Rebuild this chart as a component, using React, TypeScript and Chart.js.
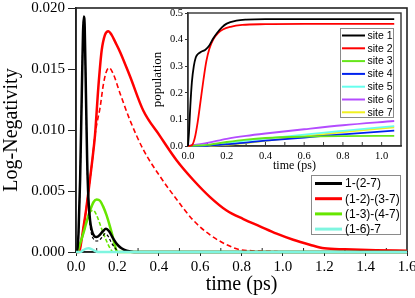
import React, { useEffect, useRef } from 'react';
import { Chart, registerables } from 'chart.js';
Chart.register(...registerables);

// ---------- main chart data: Log-Negativity vs time (ps) ----------
const tBlack = [0, 0.005, 0.012, 0.02, 0.028, 0.034, 0.038, 0.042, 0.048, 0.054, 0.06, 0.068, 0.076, 0.088, 0.1, 0.115, 0.13, 0.145, 0.16, 0.18, 0.2, 0.22, 0.245, 0.28, 1.6];
const vBlack = [0, 0, 0.0015, 0.006, 0.013, 0.018, 0.0193, 0.0185, 0.013, 0.0075, 0.0044, 0.0026, 0.0018, 0.0013, 0.00122, 0.0014, 0.0017, 0.0019, 0.0017, 0.0011, 0.0006, 0.0003, 0.0001, 0, 0];
const tBlackDash = [0, 0.005, 0.012, 0.02, 0.028, 0.034, 0.038, 0.042, 0.048, 0.054, 0.06, 0.068, 0.076, 0.088, 0.1, 0.115, 0.13, 0.14, 0.155, 0.17, 0.19, 0.21, 1.6];
const vBlackDash = [0, 0, 0.0015, 0.006, 0.013, 0.018, 0.0192, 0.0183, 0.0128, 0.0072, 0.004, 0.0022, 0.0014, 0.001, 0.0009, 0.001, 0.0013, 0.0015, 0.0013, 0.0008, 0.0003, 0, 0];
const tRed = [0, 0.015, 0.02, 0.035, 0.05, 0.065, 0.08, 0.092, 0.108, 0.124, 0.14, 0.156, 0.172, 0.19, 0.213, 0.261, 0.325, 0.406, 0.487, 0.567, 0.648, 0.728, 0.809, 0.889, 0.97, 1.05, 1.13, 1.2, 1.3, 1.45, 1.6];
const vRed = [0, 0, 0.0003, 0.0019, 0.0036, 0.0056, 0.0077, 0.0096, 0.0135, 0.0165, 0.0178, 0.0181, 0.0178, 0.0172, 0.0164, 0.0144, 0.0116, 0.0095, 0.0075, 0.0059, 0.0045, 0.0034, 0.0027, 0.0021, 0.0015, 0.001, 0.0006, 0.0003, 0.00022, 0.00015, 0.0001];
const tRedDash = [0, 0.015, 0.02, 0.035, 0.05, 0.065, 0.08, 0.092, 0.104, 0.116, 0.132, 0.145, 0.16, 0.18, 0.213, 0.261, 0.325, 0.406, 0.487, 0.567, 0.648, 0.728, 0.79, 0.85, 0.95, 1.0, 1.6];
const vRedDash = [0, 0, 0.0003, 0.0019, 0.0036, 0.0056, 0.0077, 0.0096, 0.0108, 0.0118, 0.0137, 0.0147, 0.0151, 0.0146, 0.013, 0.0108, 0.0084, 0.0062, 0.0043, 0.0026, 0.0014, 0.0006, 0.0002, 0.0001, 0.00005, 0, 0];
const tGreen = [0, 0.005, 0.02, 0.035, 0.05, 0.068, 0.085, 0.1, 0.116, 0.132, 0.148, 0.164, 0.18, 0.19, 0.2, 1.6];
const vGreen = [0, 0, 0.0007, 0.0015, 0.0024, 0.0034, 0.0041, 0.0043, 0.0042, 0.0037, 0.003, 0.0021, 0.0011, 0.0004, 0, 0];
const tGreenDash = [0, 0.005, 0.02, 0.035, 0.055, 0.07, 0.084, 0.1, 0.124, 0.145, 0.165, 0.18, 1.6];
const vGreenDash = [0, 0, 0.0007, 0.0015, 0.0027, 0.0033, 0.0034, 0.003, 0.0019, 0.001, 0.0003, 0, 0];
const tCyan = [0, 0.02, 0.035, 0.05, 0.06, 0.075, 0.09, 0.105, 1.6];
const vCyan = [0, 0, 0.00015, 0.00028, 0.0003, 0.00024, 0.0001, 0, 0];

const mainLabels = ['1-(2-7)', '(1-2)-(3-7)', '(1-3)-(4-7)', '(1-6)-7'];
const mainXTicks = [0, 0.2, 0.4, 0.6, 0.8, 1.0, 1.2, 1.4, 1.6];
const mainXMinor = [0.1, 0.3, 0.5, 0.7, 0.9, 1.1, 1.3, 1.5];
const mainYTicks = [0, 0.005, 0.01, 0.015, 0.02];

// ---------- inset data: population vs time (ps) ----------
const tSite1 = [0, 0.005, 0.012, 0.02, 0.03, 0.04, 0.05, 0.07, 0.09, 0.11, 0.13, 0.15, 0.175, 0.2, 0.25, 0.3, 0.4, 0.6, 0.8, 1.065];
const vSite1 = [0, 0.05, 0.15, 0.24, 0.3, 0.333, 0.345, 0.355, 0.362, 0.378, 0.404, 0.425, 0.446, 0.46, 0.471, 0.475, 0.477, 0.477, 0.477, 0.477];
const tSite2 = [0, 0.02, 0.035, 0.05, 0.065, 0.08, 0.095, 0.11, 0.13, 0.155, 0.18, 0.22, 0.28, 0.4, 0.6, 0.8, 1.065];
const vSite2 = [0, 0.003, 0.03, 0.09, 0.17, 0.25, 0.32, 0.365, 0.4, 0.424, 0.438, 0.448, 0.455, 0.458, 0.459, 0.459, 0.459];
const tSmall = [0, 0.1, 0.2, 0.3, 0.4, 0.6, 0.8, 1.065];
const vSite3 = [0, 0.004, 0.015, 0.024, 0.03, 0.035, 0.037, 0.038];
const vSite4 = [0, 0.001, 0.006, 0.013, 0.02, 0.032, 0.044, 0.058];
const vSite5 = [0, 0.003, 0.012, 0.02, 0.028, 0.043, 0.057, 0.075];
const vSite6 = [0, 0.012, 0.027, 0.038, 0.047, 0.063, 0.078, 0.094];
const vSite7 = [0, 0.0005, 0.004, 0.011, 0.019, 0.036, 0.052, 0.07];

const siteLabels = ['site 1', 'site 2', 'site 3', 'site 4', 'site 5', 'site 6', 'site 7'];
const siteColors = ['#000000', '#ff0000', '#66e61a', '#0022ee', '#66ffee', '#b44cff', '#f0f020'];
const insetXTicks = [0, 0.2, 0.4, 0.6, 0.8, 1.0];
const insetXMinor = [0.1, 0.2, 0.3, 0.4, 0.5, 0.6, 0.7, 0.8, 0.9, 1.0];
const insetYTicks = [0, 0.1, 0.2, 0.3, 0.4, 0.5];

const COL_BLACK = '#000000';
const COL_RED = '#ff0000';
const COL_GREEN = '#66e600';
const COL_CYAN = '#7ff5e0';

const pts = (t: number[], v: number[]) => t.map((x, i) => ({ x, y: v[i] }));

const SERIF = '"Liberation Serif", "Times New Roman", serif';
const SANS = '"Liberation Sans", Arial, sans-serif';

const framePlugin = {
  id: 'frame',
  beforeDatasetsDraw(chart: any, _a: any, opts: any) {
    const { ctx, chartArea: a } = chart;
    ctx.save();
    ctx.strokeStyle = opts.color || '#222';
    ctx.lineWidth = opts.width || 1.5;
    ctx.strokeRect(a.left, a.top, a.right - a.left, a.bottom - a.top);
    // inward minor ticks on x axis
    const xs = chart.scales.x;
    ctx.lineWidth = 1;
    (opts.minor || []).forEach((v: number) => {
      const px = xs.getPixelForValue(v);
      ctx.beginPath();
      ctx.moveTo(px, a.bottom);
      ctx.lineTo(px, a.bottom - (opts.minorLen || 4));
      ctx.stroke();
    });
    ctx.restore();
  },
};

const bgPlugin = {
  id: 'bgfill',
  beforeDraw(chart: any, _a: any, opts: any) {
    if (!opts.color) return;
    const { ctx, chartArea: a } = chart;
    ctx.save();
    ctx.fillStyle = opts.color;
    ctx.fillRect(a.left, a.top, a.right - a.left, a.bottom - a.top);
    ctx.restore();
  },
};

const boxLegendPlugin = {
  id: 'boxLegend',
  afterDraw(chart: any, _a: any, o: any) {
    const { ctx } = chart;
    const items = chart.data.datasets.filter((d: any) => !d.hideInLegend);
    ctx.save();
    ctx.fillStyle = '#ffffff';
    ctx.fillRect(o.x, o.y, o.w, o.h);
    ctx.strokeStyle = '#8a8a8a';
    ctx.lineWidth = 1;
    ctx.strokeRect(o.x + 0.5, o.y + 0.5, o.w, o.h);
    ctx.font = `${o.fontSize}px ${SANS}`;
    ctx.textBaseline = 'middle';
    ctx.textAlign = 'left';
    items.forEach((d: any, i: number) => {
      const y = o.first + i * o.step;
      ctx.strokeStyle = d.borderColor;
      ctx.lineWidth = o.lineW;
      ctx.setLineDash([]);
      ctx.beginPath();
      ctx.moveTo(o.lx0, y);
      ctx.lineTo(o.lx1, y);
      ctx.stroke();
      ctx.fillStyle = '#000';
      ctx.fillText(d.label, o.tx, y + 0.5);
    });
    ctx.restore();
  },
};

const fixTicks = (arr: number[]) => (scale: any) => {
  scale.ticks = arr.map((v) => ({ value: v }));
};

export default function App() {
  const mainRef = useRef<HTMLCanvasElement>(null);
  const insetRef = useRef<HTMLCanvasElement>(null);

  useEffect(() => {
    const line = (label: string, data: any, color: string, width: number, order: number, dash: number[] = [], hide = false) => ({
      label,
      data,
      borderColor: color,
      backgroundColor: color,
      borderWidth: width,
      borderDash: dash,
      pointRadius: 0,
      fill: false,
      cubicInterpolationMode: 'monotone',
      order,
      clip: false,
      hideInLegend: hide,
    });

    const main = new Chart(mainRef.current as HTMLCanvasElement, {
      type: 'line',
      data: {
        datasets: [
          line(mainLabels[0], pts(tBlack, vBlack), COL_BLACK, 2.5, 1),
          line(mainLabels[1], pts(tRed, vRed), COL_RED, 2.5, 3),
          line(mainLabels[2], pts(tGreen, vGreen), COL_GREEN, 2.5, 2),
          line(mainLabels[3], pts(tCyan, vCyan), COL_CYAN, 2.5, 0),
          line('', pts(tBlackDash, vBlackDash), COL_BLACK, 1.2, 1, [3, 2], true),
          line('', pts(tRedDash, vRedDash), COL_RED, 1.6, 3, [5, 3], true),
          line('', pts(tGreenDash, vGreenDash), COL_GREEN, 1.6, 2, [4, 2], true),
        ] as any,
      },
      options: {
        animation: false,
        responsive: false,
        devicePixelRatio: 1,
        layout: { padding: { left: 0, right: 8, top: 8, bottom: 0 } },
        plugins: {
          legend: { display: false },
          tooltip: { enabled: false },
          frame: { color: '#222', width: 1.6, minor: mainXMinor, minorLen: 4 },
          boxLegend: { x: 311, y: 175, w: 89, h: 59, first: 183.5, step: 15.2, lx0: 315, lx1: 342, tx: 345, fontSize: 12, lineW: 3 },
        } as any,
        scales: {
          x: {
            type: 'linear',
            min: 0,
            max: 1.6,
            afterBuildTicks: fixTicks(mainXTicks),
            afterFit: (s: any) => { s.height = 46; s.paddingLeft = 0; s.paddingRight = 0; },
            grid: { drawOnChartArea: false, drawTicks: true, tickLength: 4, color: '#222' },
            border: { display: true, color: '#222', width: 1.6 },
            ticks: { color: '#000', padding: 2, maxRotation: 0, font: { family: SERIF, size: 15 }, callback: (v: any) => Number(v).toFixed(1) },
            title: { display: true, text: 'time (ps)', color: '#000', font: { family: SERIF, size: 20 }, padding: { top: 0, bottom: 1 } },
          },
          y: {
            type: 'linear',
            min: 0,
            max: 0.02,
            afterBuildTicks: fixTicks(mainYTicks),
            afterFit: (s: any) => { s.width = 76; s.paddingTop = 0; s.paddingBottom = 0; },
            grid: { drawOnChartArea: false, drawTicks: true, tickLength: 8, color: '#222' },
            border: { display: true, color: '#222', width: 1.6 },
            ticks: { color: '#000', padding: 3, font: { family: SERIF, size: 15 }, callback: (v: any) => Number(v).toFixed(3) },
            title: { display: true, text: 'Log-Negativity', color: '#000', font: { family: SERIF, size: 20 }, padding: { top: 0, bottom: 0 } },
          },
        },
      },
      plugins: [framePlugin, boxLegendPlugin],
    } as any);

    const sitesT = [tSite1, tSite2, tSmall, tSmall, tSmall, tSmall, tSmall];
    const sitesV = [vSite1, vSite2, vSite3, vSite4, vSite5, vSite6, vSite7];
    const inset = new Chart(insetRef.current as HTMLCanvasElement, {
      type: 'line',
      data: {
        datasets: siteLabels.map((lab, i) => line(lab, pts(sitesT[i], sitesV[i]), siteColors[i], 1.8, i)) as any,
      },
      options: {
        animation: false,
        responsive: false,
        devicePixelRatio: 1,
        layout: { padding: { left: 150, right: 14, top: 13, bottom: 125 } },
        plugins: {
          legend: { display: false },
          tooltip: { enabled: false },
          bgfill: { color: '#ffffff' },
          frame: { color: '#333', width: 1.4, minor: insetXMinor, minorLen: 4 },
          boxLegend: { x: 340, y: 28, w: 53, h: 89, first: 35.5, step: 12.8, lx0: 342, lx1: 365, tx: 367.5, fontSize: 10.5, lineW: 2 },
        } as any,
        scales: {
          x: {
            type: 'linear',
            min: 0,
            max: 1.1,
            afterBuildTicks: fixTicks(insetXTicks),
            afterFit: (s: any) => { s.height = 27; s.paddingLeft = 0; s.paddingRight = 0; },
            grid: { drawOnChartArea: false, drawTicks: false, color: '#333' },
            border: { display: true, color: '#333', width: 1.4 },
            ticks: { color: '#000', padding: 4, maxRotation: 0, font: { family: SERIF, size: 10.5 }, callback: (v: any) => Number(v).toFixed(1) },
            title: { display: true, text: 'time (ps)', color: '#000', font: { family: SERIF, size: 12 }, padding: { top: 0, bottom: 0 } },
          },
          y: {
            type: 'linear',
            min: 0,
            max: 0.5,
            afterBuildTicks: fixTicks(insetYTicks),
            afterFit: (s: any) => { s.width = 38; s.paddingTop = 0; s.paddingBottom = 0; },
            grid: { drawOnChartArea: false, drawTicks: true, tickLength: 3, color: '#333' },
            border: { display: true, color: '#333', width: 1.4 },
            ticks: { color: '#000', padding: 2, font: { family: SERIF, size: 10.5 }, callback: (v: any) => Number(v).toFixed(1) },
            title: { display: true, text: 'population', color: '#000', font: { family: SERIF, size: 13 }, padding: { top: 0, bottom: 0 } },
          },
        },
      },
      plugins: [bgPlugin, framePlugin, boxLegendPlugin],
    } as any);

    return () => {
      main.destroy();
      inset.destroy();
    };
  }, []);

  return (
    <div style={{ position: 'absolute', left: 0, top: 0, width: 415, height: 298, background: '#ffffff', overflow: 'hidden' }}>
      <canvas ref={mainRef} width={415} height={298} style={{ position: 'absolute', left: 0, top: 0 }} />
      <canvas ref={insetRef} width={415} height={298} style={{ position: 'absolute', left: 0, top: 0 }} />
    </div>
  );
}
